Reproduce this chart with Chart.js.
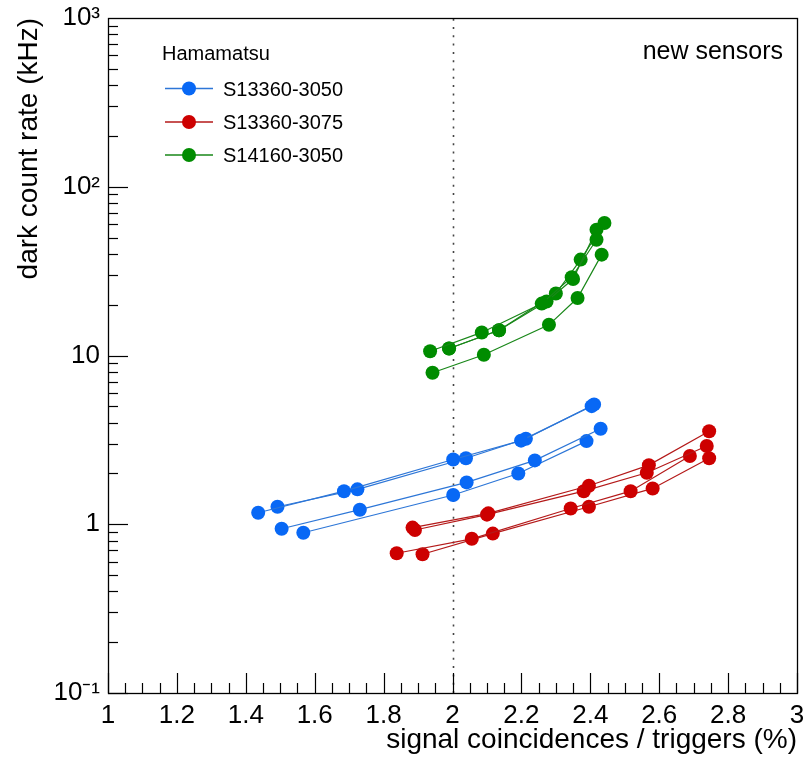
<!DOCTYPE html>
<html><head><meta charset="utf-8">
<script src="https://cdn.jsdelivr.net/npm/chart.js@4/dist/chart.umd.min.js"></script>
<style>html,body{margin:0;padding:0;background:#fff}canvas{display:block}</style>
</head><body>
<canvas id="c" width="810" height="757"></canvas>
<script>
const FONT = '"Liberation Sans", Arial, Helvetica, sans-serif';

// ---- data ----
// S13360-3050 (blue)
const s3050aX = [1.436, 1.685, 2.002, 2.199, 2.404];
const s3050aY = [1.17, 1.57, 2.42, 3.13, 5.01];
const s3050bX = [1.492, 1.724, 2.039, 2.213, 2.411];
const s3050bY = [1.27, 1.61, 2.46, 3.21, 5.13];
const s3050cX = [1.504, 1.731, 2.041, 2.239, 2.430];
const s3050cY = [0.94, 1.22, 1.77, 2.39, 3.68];
const s3050dX = [1.567, 2.002, 2.191, 2.389];
const s3050dY = [0.89, 1.49, 2.00, 3.11];
// S13360-3075 (red)
const s3075aX = [1.884, 2.104, 2.396, 2.570, 2.745];
const s3075aY = [0.955, 1.16, 1.69, 2.24, 3.56];
const s3075bX = [1.891, 2.100, 2.381, 2.564, 2.738];
const s3075bY = [0.925, 1.14, 1.57, 2.02, 2.91];
const s3075cX = [1.838, 2.056, 2.343, 2.517, 2.689];
const s3075cY = [0.673, 0.82, 1.24, 1.57, 2.54];
const s3075dX = [1.913, 2.117, 2.396, 2.581, 2.745];
const s3075dY = [0.664, 0.88, 1.27, 1.63, 2.46];
// S14160-3050 (green)
const s14160aX = [1.935, 2.085, 2.259, 2.346, 2.418];
const s14160aY = [10.6, 13.7, 20.3, 29.1, 48.5];
const s14160bX = [1.990, 2.135, 2.273, 2.350, 2.418];
const s14160bY = [11.0, 14.1, 20.9, 28.4, 55.7];
const s14160cX = [1.990, 2.135, 2.300, 2.372, 2.441];
const s14160cY = [11.0, 14.1, 23.3, 37.0, 61.0];
const s14160dX = [1.942, 2.091, 2.280, 2.363, 2.433];
const s14160dY = [7.9, 10.1, 15.2, 21.9, 39.6];

const seriesNames = ['S13360-3050', 'S13360-3075', 'S14160-3050'];
const legendHeader = 'Hamamatsu';
const annotationText = 'new sensors';
const xTitle = 'signal coincidences / triggers (%)';
const yTitle = 'dark count rate (kHz)';
const xTickValues = [1, 1.2, 1.4, 1.6, 1.8, 2, 2.2, 2.4, 2.6, 2.8, 3];
const xTickLabels = ['1', '1.2', '1.4', '1.6', '1.8', '2', '2.2', '2.4', '2.6', '2.8', '3'];
const yTickValues = [0.1, 1, 10, 100, 1000];
const yTickLabels = ['10\u207B\u00B9', '1', '10', '10\u00B2', '10\u00B3'];
const cutValue = 2;

// ---- styles ----
const markerColors = ['rgb(8,104,245)', 'rgb(205,0,0)', 'rgb(0,140,0)'];
const lineColors = ['rgb(45,118,215)', 'rgb(180,25,25)', 'rgb(25,135,25)'];

const groups = [
  [[s3050aX, s3050aY], [s3050bX, s3050bY], [s3050cX, s3050cY], [s3050dX, s3050dY]],
  [[s3075aX, s3075aY], [s3075bX, s3075bY], [s3075cX, s3075cY], [s3075dX, s3075dY]],
  [[s14160aX, s14160aY], [s14160bX, s14160bY], [s14160cX, s14160cY], [s14160dX, s14160dY]]
];

const datasets = [];
groups.forEach((g, gi) => {
  g.forEach(([xs, ys], si) => {
    datasets.push({
      label: seriesNames[gi] + ' #' + (si + 1),
      data: xs.map((x, i) => ({ x: x, y: ys[i] })),
      showLine: true,
      borderColor: lineColors[gi],
      borderWidth: 1.2,
      backgroundColor: markerColors[gi],
      pointBackgroundColor: markerColors[gi],
      pointBorderWidth: 0,
      pointRadius: 7,
      pointHoverRadius: 7,
      tension: 0
    });
  });
});

const rootPlugin = {
  id: 'rootStyle',
  beforeDatasetsDraw(chart) {
    const { ctx, chartArea: a, scales: { x } } = chart;
    const px = Math.round(x.getPixelForValue(cutValue)) + 0.5;
    ctx.save();
    ctx.strokeStyle = '#444';
    ctx.lineWidth = 1.6;
    ctx.setLineDash([2, 6.3]);
    ctx.beginPath();
    ctx.moveTo(px, a.bottom);
    ctx.lineTo(px, a.top);
    ctx.stroke();
    ctx.restore();
  },
  afterDraw(chart) {
    const { ctx, chartArea: a, scales: { x, y } } = chart;
    ctx.save();
    ctx.strokeStyle = '#000';
    ctx.lineWidth = 1.2;
    // x ticks (inward)
    for (let i = 0; i <= 40; i++) {
      const v = 1 + i * 0.05;
      const px = Math.round(x.getPixelForValue(v)) + 0.5;
      const len = (i % 4 === 0) ? 20 : 10;
      ctx.beginPath();
      ctx.moveTo(px, a.bottom);
      ctx.lineTo(px, a.bottom - len);
      ctx.stroke();
    }
    // y ticks (inward)
    for (let d = -1; d <= 2; d++) {
      for (let m = 1; m <= 9; m++) {
        const v = m * Math.pow(10, d);
        const py = Math.round(y.getPixelForValue(v)) + 0.5;
        const len = (m === 1) ? 20 : 10;
        ctx.beginPath();
        ctx.moveTo(a.left, py);
        ctx.lineTo(a.left + len, py);
        ctx.stroke();
      }
    }
    // frame
    ctx.lineWidth = 1.3;
    ctx.strokeRect(Math.round(a.left) + 0.5, Math.round(a.top) + 0.5,
      Math.round(a.right) - Math.round(a.left), Math.round(a.bottom) - Math.round(a.top));

    // legend
    ctx.fillStyle = '#000';
    ctx.textAlign = 'left';
    ctx.textBaseline = 'alphabetic';
    ctx.font = '20px ' + FONT;
    ctx.fillText(legendHeader, 162, 60);
    const rows = [88.5, 122, 155];
    seriesNames.forEach((name, i) => {
      const ry = rows[i];
      ctx.strokeStyle = lineColors[i];
      ctx.lineWidth = 1.5;
      ctx.beginPath();
      ctx.moveTo(165, ry);
      ctx.lineTo(213, ry);
      ctx.stroke();
      ctx.fillStyle = markerColors[i];
      ctx.beginPath();
      ctx.arc(189, ry, 7, 0, Math.PI * 2);
      ctx.fill();
      ctx.fillStyle = '#000';
      ctx.fillText(name, 223, ry + 7);
    });
    // annotation
    ctx.font = '25px ' + FONT;
    ctx.textAlign = 'right';
    ctx.fillText(annotationText, 783, 59);
    ctx.restore();
  }
};

new Chart(document.getElementById('c'), {
  type: 'scatter',
  data: { datasets: datasets },
  options: {
    responsive: false,
    devicePixelRatio: 1,
    animation: false,
    layout: { padding: { left: 0, right: 13, top: 18, bottom: 0 } },
    plugins: { legend: { display: false }, tooltip: { enabled: false } },
    scales: {
      x: {
        type: 'linear',
        min: 1, max: 3,
        grid: { display: false, drawTicks: false },
        border: { display: false },
        afterBuildTicks(scale) { scale.ticks = xTickValues.map(v => ({ value: v })); },
        afterFit(scale) { scale.height = 64; scale.paddingLeft = 0; scale.paddingRight = 0; },
        ticks: {
          autoSkip: false, maxRotation: 0, padding: 7, color: '#000',
          font: { family: FONT, size: 26 },
          callback(v) { const i = xTickValues.indexOf(v); return i >= 0 ? xTickLabels[i] : ''; }
        },
        title: {
          display: true, text: xTitle, align: 'end', color: '#000',
          font: { family: FONT, size: 28 }, padding: { top: 0, bottom: 0 }
        }
      },
      y: {
        type: 'logarithmic',
        min: 0.1, max: 1000,
        grid: { display: false, drawTicks: false },
        border: { display: false },
        afterBuildTicks(scale) { scale.ticks = yTickValues.map(v => ({ value: v })); },
        afterFit(scale) { scale.width = 108; scale.paddingTop = 0; scale.paddingBottom = 0; },
        ticks: {
          autoSkip: false, padding: 8, color: '#000',
          font: { family: FONT, size: 26 },
          callback(v) { const i = yTickValues.indexOf(v); return i >= 0 ? yTickLabels[i] : ''; }
        },
        title: {
          display: true, text: yTitle, align: 'end', color: '#000',
          font: { family: FONT, size: 28 }, padding: { top: 12, bottom: 0 }
        }
      }
    }
  },
  plugins: [rootPlugin]
});
</script>
</body></html>
